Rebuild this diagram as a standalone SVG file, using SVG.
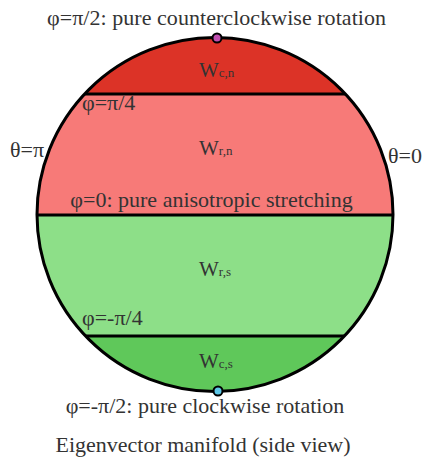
<svg xmlns="http://www.w3.org/2000/svg" width="425" height="463" viewBox="0 0 425 463">
<style>
text{font-family:"Liberation Serif","Times New Roman",serif;fill:#333}
.lbl{font-size:22px}
.w{font-size:21px}
.sub{font-size:13px}
.line{stroke:#000;stroke-width:3}
</style>
<defs>
<clipPath id="cc"><ellipse cx="215" cy="214.5" rx="178" ry="177"/></clipPath>
</defs>
<rect width="425" height="463" fill="#fff"/>
<g id="manifold">
<g clip-path="url(#cc)">
<rect id="band-cn" x="30" y="30" width="370" height="64" fill="#dc3327"/>
<rect id="band-rn" x="30" y="94" width="370" height="121" fill="#f77a78"/>
<rect id="band-rs" x="30" y="215" width="370" height="121" fill="#8ddf88"/>
<rect id="band-cs" x="30" y="336" width="370" height="64" fill="#5fc85a"/>
</g>
<g id="connectors">
<line class="line" x1="30" y1="94" x2="400" y2="94" clip-path="url(#cc)"/>
<line class="line" x1="30" y1="215" x2="400" y2="215" clip-path="url(#cc)"/>
<line class="line" x1="30" y1="336" x2="400" y2="336" clip-path="url(#cc)"/>
</g>
<ellipse cx="215" cy="214.5" rx="178" ry="177" fill="none" stroke="#000" stroke-width="3"/>
</g>
<g id="top-point"><circle cx="217" cy="38" r="4.5" fill="#c04fb0" stroke="#000" stroke-width="2"/></g>
<g id="bottom-point"><circle cx="218" cy="391" r="4.5" fill="#5cc6e6" stroke="#000" stroke-width="2"/></g>
<text class="lbl" x="216.5" y="25" text-anchor="middle" textLength="339">φ=π/2: pure counterclockwise rotation</text>
<text class="w" x="199" y="77">W<tspan class="sub">c,n</tspan></text>
<text class="lbl" x="82" y="110">φ=π/4</text>
<text class="lbl" x="10" y="157">θ=π</text>
<text class="w" x="199" y="155">W<tspan class="sub">r,n</tspan></text>
<text class="lbl" x="388" y="163">θ=0</text>
<text class="lbl" x="211.5" y="207" text-anchor="middle">φ=0: pure anisotropic stretching</text>
<text class="w" x="199" y="276">W<tspan class="sub">r,s</tspan></text>
<text class="lbl" x="82" y="325">φ=-π/4</text>
<text class="w" x="199" y="368">W<tspan class="sub">c,s</tspan></text>
<text class="lbl" x="205" y="413" text-anchor="middle">φ=-π/2: pure clockwise rotation</text>
<text class="lbl" x="203" y="452" text-anchor="middle">Eigenvector manifold (side view)</text>
</svg>
